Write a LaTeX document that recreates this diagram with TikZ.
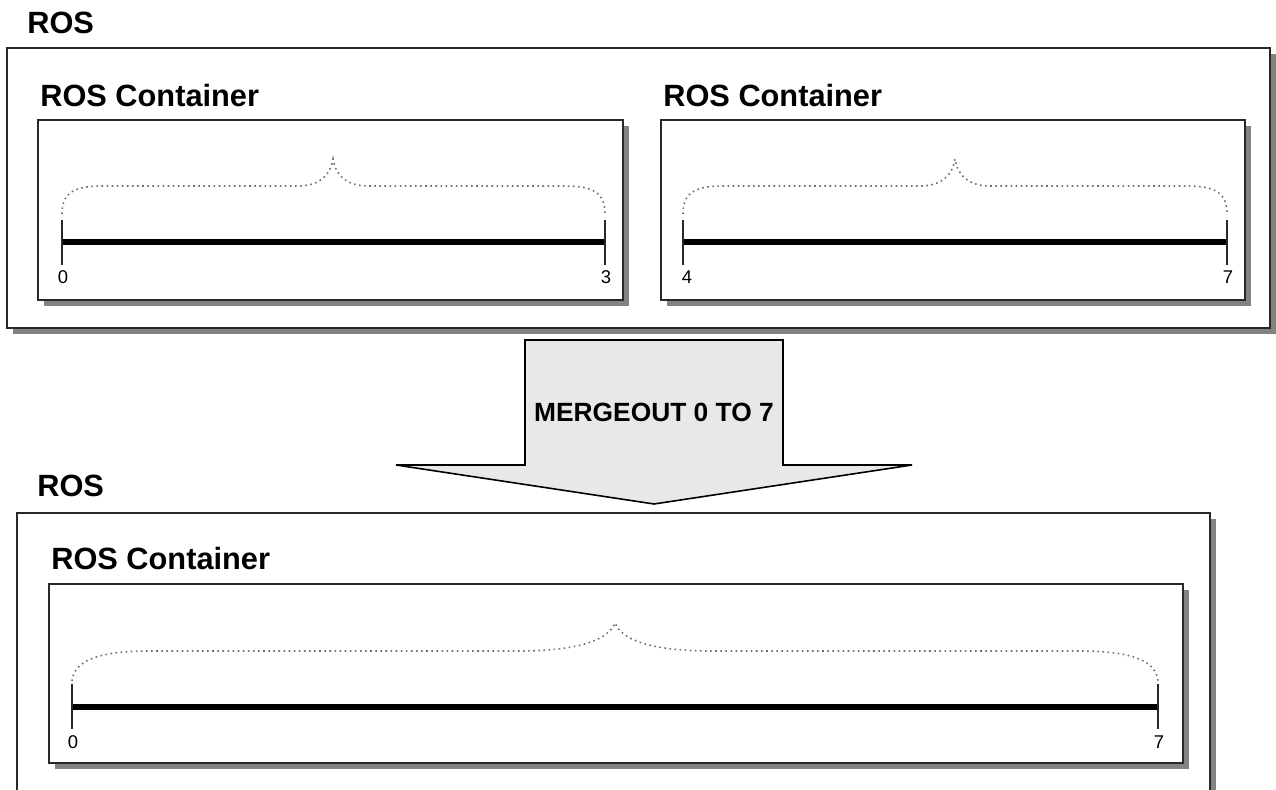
\documentclass[tikz,border=0pt]{standalone}
\usepackage{fontspec}
\setmainfont{Liberation Sans}
\definecolor{boxline}{RGB}{40, 40, 40}
\definecolor{shadowgray}{RGB}{130, 130, 130}
\definecolor{arrowfill}{RGB}{232, 232, 232}
\definecolor{bracegray}{RGB}{110, 110, 110}
\usetikzlibrary{positioning}

\tikzset{
  rosbox/.style={draw=boxline, line width=1.1pt, fill=white},
  rosshadow/.style={fill=shadowgray},
  rostitle/.style={font=\fontsize{17.5}{21}\selectfont\bfseries, anchor=base west, inner sep=0pt},
  ticklabel/.style={font=\fontsize{10.5}{12}\selectfont, anchor=base, inner sep=0pt},
  timeline/.style={line width=3pt},
  tickmark/.style={draw=boxline, line width=1.2pt},
  rangebrace/.style={draw=bracegray, dotted, line width=0.9pt}
}

\begin{document}
\begin{tikzpicture}[x=0.02cm, y=-0.02cm]
  \useasboundingbox (0,0) rectangle (1276,790);
  \clip (0,0) rectangle (1276,790);

  % upper ROS
  \node[rostitle] (rosUpper) at (27,34) {ROS};
  \fill[rosshadow] (13,54) rectangle (1276,334);
  \draw[rosbox] (7,48) rectangle (1270,328);

  % container 0 .. 3
  \node[rostitle] (contLeft) at (40,107) {ROS Container};
  \fill[rosshadow] (44,126) rectangle (629,306);
  \draw[rosbox] (38,120) rectangle (623,300);
  \draw[rangebrace] (62,214) .. controls (62,194) and (72,186) .. (102,186) -- (300,186)
    .. controls (320,185) and (330,176) .. (333,159) .. controls (336,176) and (346,185) .. (366,186)
    -- (565,186) .. controls (595,186) and (605,194) .. (605,214);
  \draw[timeline] (62,242) -- (605,242);
  \draw[tickmark] (62,220) -- (62,265);
  \draw[tickmark] (605,220) -- (605,265);
  \node[ticklabel] (leftStart) at (63,284) {0};
  \node[ticklabel] (leftEnd) at (606,284) {3};

  % container 4 .. 7
  \node[rostitle] (contRight) at (663,107) {ROS Container};
  \fill[rosshadow] (667,126) rectangle (1251,306);
  \draw[rosbox] (661,120) rectangle (1245,300);
  \draw[rangebrace] (683,214) .. controls (683,194) and (693,186) .. (723,186) -- (922,186)
    .. controls (942,185) and (952,176) .. (955,159) .. controls (958,176) and (968,185) .. (988,186)
    -- (1187,186) .. controls (1217,186) and (1227,194) .. (1227,214);
  \draw[timeline] (683,242) -- (1227,242);
  \draw[tickmark] (683,220) -- (683,265);
  \draw[tickmark] (1227,220) -- (1227,265);
  \node[ticklabel] (rightStart) at (687,284) {4};
  \node[ticklabel] (rightEnd) at (1228,284) {7};

  % mergeout arrow
  \draw[fill=arrowfill, draw=black, line width=0.9pt, line join=miter]
    (525,340) -- (783,340) -- (783,465) -- (912,465) -- (654,504) -- (396,465) -- (525,465) -- cycle;
  \node[font=\fontsize{15}{18}\selectfont\bfseries, anchor=base, inner sep=0pt] (merge) at (654,422) {MERGEOUT 0 TO 7};

  % lower ROS
  \node[rostitle] (rosLower) at (37,497) {ROS};
  \fill[rosshadow] (23,519) rectangle (1216,800);
  \draw[rosbox] (17,513) rectangle (1210,800);

  % merged container 0 .. 7
  \node[rostitle] (contMerged) at (51,570) {ROS Container};
  \fill[rosshadow] (55,590) rectangle (1189,769);
  \draw[rosbox] (49,584) rectangle (1183,763);
  \draw[rangebrace] (72,681) .. controls (74,660) and (100,651) .. (150,651) -- (525,651)
    .. controls (580,650) and (608,640) .. (615,623) .. controls (622,640) and (650,650) .. (705,651)
    -- (1080,651) .. controls (1130,651) and (1156,660) .. (1158,681);
  \draw[timeline] (72,707) -- (1158,707);
  \draw[tickmark] (72,684) -- (72,729);
  \draw[tickmark] (1158,684) -- (1158,729);
  \node[ticklabel] (mergedStart) at (73,749) {0};
  \node[ticklabel] (mergedEnd) at (1159,749) {7};
\end{tikzpicture}
\end{document}
